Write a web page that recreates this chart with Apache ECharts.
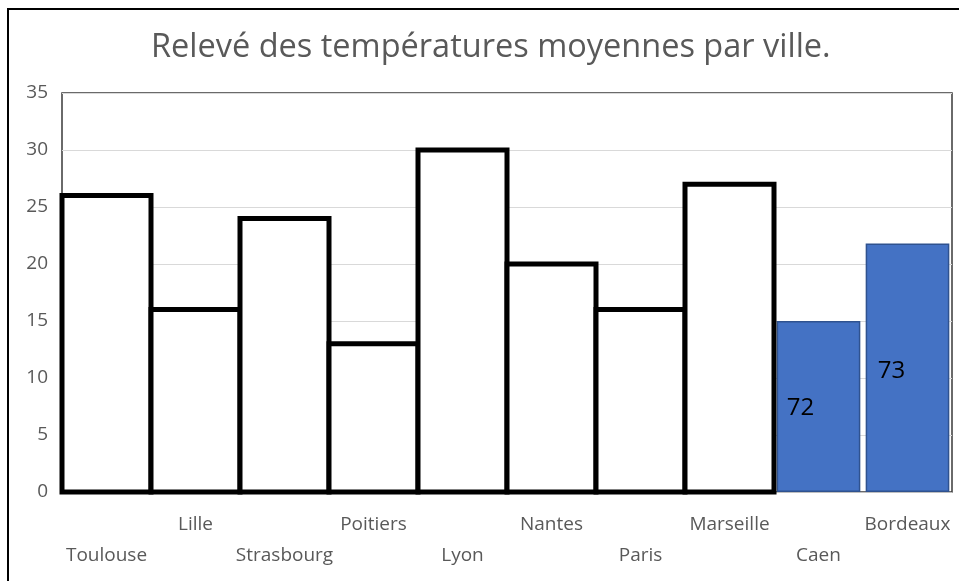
<!DOCTYPE html>
<html>
<head>
<meta charset="utf-8">
<script src="https://cdn.jsdelivr.net/npm/echarts@6/dist/echarts.min.js"></script>
<style>
html,body{margin:0;padding:0;background:#fff;}
#chart{width:959px;height:581px;}
</style>
</head>
<body>
<div id="chart"></div>
<script>
const titleText = 'Relevé des températures moyennes par ville.';
const cities = ['Toulouse','Lille','Strasbourg','Poitiers','Lyon','Nantes','Paris','Marseille','Caen','Bordeaux'];
const temperatures = [26, 16, 24, 13, 30, 20, 16, 27, 15, 21.8];
const highlighted = [false,false,false,false,false,false,false,false,true,true];
const barLabels = ['','','','','','','','','72','73'];
const yTicks = [0, 5, 10, 15, 20, 25, 30, 35];

const FONT = '"Open Sans"';
const chart = echarts.init(document.getElementById('chart'), null, {renderer:'canvas'});

const outlineData = temperatures.map((v,i) => highlighted[i] ? null : [i, v]).filter(d => d !== null);
const labelOffsets = {8:[-18,2], 9:[-16,3]};
const blueData = temperatures.map((v,i) => highlighted[i] ? {
  value:v,
  label:{show:true, formatter:barLabels[i], offset:labelOffsets[i] || [0,0]}
} : null);

chart.setOption({
  animation:false,
  backgroundColor:'#ffffff',
  title:{
    text:titleText, left:146, top:26,
    textStyle:{fontFamily:FONT, fontSize:32.5, fontWeight:'normal', color:'#595959'}
  },
  graphic:[{
    type:'rect', shape:{x:8, y:9, width:1000, height:1000},
    style:{fill:null, stroke:'#000', lineWidth:2}, silent:true, z:-1
  }],
  grid:{left:62, right:7, top:93, bottom:89, show:true, borderColor:'#3a3a3a', borderWidth:1.5, backgroundColor:'transparent'},
  xAxis:{
    type:'category', data:cities,
    axisLine:{show:true, lineStyle:{color:'#bfbfbf', width:1}},
    axisTick:{show:false},
    axisLabel:{
      interval:0, margin:17, color:'#595959', fontFamily:FONT, fontSize:19, lineHeight:31,
      formatter:(v, i) => (i % 2 === 1) ? v + '\n ' : ' \n' + v
    }
  },
  yAxis:{
    type:'value', min:0, max:35, interval:5,
    axisLine:{show:false}, axisTick:{show:false},
    axisLabel:{color:'#595959', fontFamily:FONT, fontSize:19, margin:14},
    splitLine:{lineStyle:{color:'#d9d9d9', width:1}}
  },
  series:[{
    type:'custom',
    data:outlineData,
    encode:{x:0, y:1},
    renderItem:(params, api) => {
      const top = api.coord([api.value(0), api.value(1)]);
      const bottom = api.coord([api.value(0), 0]);
      const w = api.size([1, 0])[0];
      return {
        type:'rect',
        shape:{x:top[0] - w/2, y:top[1], width:w, height:bottom[1] - top[1]},
        style:{fill:'#ffffff', stroke:'#000000', lineWidth:5}
      };
    },
    z:3
  },{
    type:'bar', data:blueData, barWidth:'94%',
    itemStyle:{color:'#4472C4', borderColor:'#2F528F', borderWidth:1.5},
    label:{show:true, position:'inside', color:'#000', fontFamily:FONT, fontSize:24},
    z:2
  }]
});
</script>
</body>
</html>
